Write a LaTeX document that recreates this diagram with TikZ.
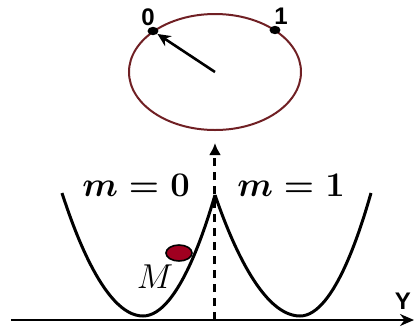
\documentclass[tikz,border=0pt]{standalone}
\usepackage{fontspec}
\newfontfamily\labelfont{Liberation Sans}
\usepackage{tikz}
\usetikzlibrary{arrows.meta, positioning, shapes.geometric}
\usepackage{amsmath, amssymb}
\definecolor{ringred}{RGB}{112,32,36}
\definecolor{ballred}{RGB}{160,0,32}

\begin{document}
\begin{tikzpicture}[
    x=0.5pt, y=-0.5pt,
    >=Stealth,
    ring/.style={draw=ringred, line width=1pt},
    statedot/.style={ellipse, fill=black, minimum width=5.5pt, minimum height=4.2pt, inner sep=0pt},
    digit/.style={font=\labelfont\bfseries\large},
    well/.style={line width=1.5pt, line join=round},
    arr/.style={-{Stealth[length=6.5pt, width=6pt]}, line width=1.3pt},
    dasharr/.style={-{Latex[length=6pt, width=6pt]}, line width=1.5pt, dash pattern=on 4pt off 3pt},
    mlabel/.style={font=\LARGE\boldmath},
    masslabel/.style={font=\LARGE},
]
\useasboundingbox (0,0) rectangle (414,328);

% ============ clock ring on top ============
\draw[ring] (215,72) ellipse [x radius=86, y radius=58];
\coordinate (centre) at (215,72);
\node[statedot] (s0) at (153,31) {};
\node[statedot] (s1) at (275,30) {};
\node[digit] (l0) at (148,17) {0};
\node[digit] (l1) at (281,16) {1};
\draw[arr] (centre) -- (s0);

% ============ double well ============
\coordinate (axl) at (11,320);
\coordinate (axr) at (414,320);
\draw[-{Stealth[length=7pt, width=6pt]}, line width=1pt] (axl) -- (axr);
\node[font=\labelfont\bfseries\large] (ylab) at (403,301) {Y};

\draw[well] (62,193) parabola bend (143,316) (215,195);
\draw[well] (215,195) parabola bend (300,316) (371,193);

\coordinate (base) at (215,320);
\coordinate (tip) at (215,143);
\draw[dasharr] (base) -- (tip);

\node[mlabel] (wellA) at (136,185) {$m=0$};
\node[mlabel] (wellB) at (291,185) {$m=1$};

\node[ellipse, draw=black, line width=0.8pt, fill=ballred,
      minimum width=13pt, minimum height=8pt, inner sep=0pt] (ball) at (179,253) {};
\node[masslabel] (mass) at (155,277) {$M$};

\end{tikzpicture}
\end{document}
